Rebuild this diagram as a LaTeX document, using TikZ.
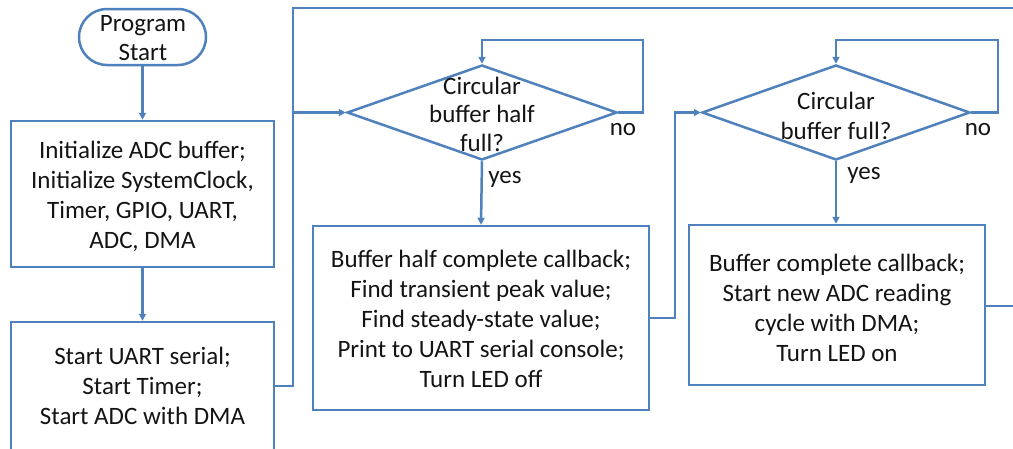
\documentclass[tikz,border=0pt]{standalone}
\usepackage{fontspec}
\setmainfont{Carlito}
\usetikzlibrary{shapes.geometric,shapes.misc,arrows.meta}
\definecolor{fcblue}{RGB}{79,129,189}
\definecolor{fctext}{RGB}{20,20,20}
\tikzset{
  line/.style={draw=fcblue,line width=2.5pt},
  arr/.style={line,-{Triangle[length=7pt,width=7pt]}},
  txt/.style={font=\fontsize{25}{30}\selectfont,text=fctext,align=center},
  procbox/.style={rectangle,line,inner sep=0pt},
  decbox/.style={diamond,line,inner sep=0pt,aspect=1},
  termbox/.style={rounded rectangle,line,inner sep=0pt},
  lbl/.style={font=\fontsize{25}{30}\selectfont,text=fctext,inner sep=0pt}
}
\begin{document}
\begin{tikzpicture}[x=1pt,y=-1pt]
\useasboundingbox (0,0) rectangle (1013,448);
\clip (0,0) rectangle (1013,448);
\fill[white] (0,0) rectangle (1013,448);

\node[termbox,minimum width=127pt,minimum height=56pt] (start) at (142.5,37) {};
\node[txt,font=\fontsize{25}{29}\selectfont] (starttxt) at (143,38) {Program\\Start};

\node[procbox,minimum width=263pt,minimum height=146pt] (box1) at (142.5,194) {};
\node[txt] (box1txt) at (142.5,196) {Initialize ADC buffer;\\Initialize SystemClock,\\Timer, GPIO, UART,\\ADC, DMA};

\node[procbox,minimum width=263pt,minimum height=128pt] (box2) at (142.5,386) {};
\node[txt] (box2txt) at (142.5,386) {Start UART serial;\\Start Timer;\\Start ADC with DMA};

\node[decbox,minimum width=270pt,minimum height=95pt] (d1) at (482,112.5) {};
\node[txt,font=\fontsize{25}{28.5}\selectfont] (d1txt) at (482,114) {Circular\\buffer half\\full?};

\node[procbox,minimum width=336pt,minimum height=184pt] (box3) at (481,318) {};
\node[txt] (box3txt) at (481,319) {Buffer half complete callback;\\Find transient peak value;\\Find steady-state value;\\Print to UART serial console;\\Turn LED off};

\node[decbox,minimum width=268pt,minimum height=95pt] (d2) at (836,112.5) {};
\node[txt] (d2txt) at (836,116) {Circular\\buffer full?};

\node[procbox,minimum width=296pt,minimum height=160pt] (box4) at (837,305) {};
\node[txt] (box4txt) at (837,308) {Buffer complete callback;\\Start new ADC reading\\cycle with DMA;\\Turn LED on};

\coordinate (j1) at (293,112.5);
\coordinate (topR) at (1013,8);
\coordinate (outR) at (1013,306);

\draw[arr] (start) -- (box1);
\draw[arr] (box1) -- (box2);
\draw[line] (box2.east) -| (293,8) -- (topR);
\draw[arr] (j1) -- (d1.west);
\draw[arr] (d1.east) -- (643,112.5) -- (643,40) -| (d1.north);
\draw[arr] (d1.south) -- (box3.north);
\draw[arr] (box3.east) -| (675,112.5) -- (d2.west);
\draw[arr] (d2.east) -- (998,112.5) -- (998,40) -| (d2.north);
\draw[arr] (d2.south) -- (d2.south |- box4.north);
\draw[line] (box4.east |- outR) -- (outR);

\node[lbl] (no1) at (623,130) {no};
\node[lbl] (yes1) at (505,179) {yes};
\node[lbl] (no2) at (978,130) {no};
\node[lbl] (yes2) at (864,175) {yes};
\end{tikzpicture}
\end{document}
